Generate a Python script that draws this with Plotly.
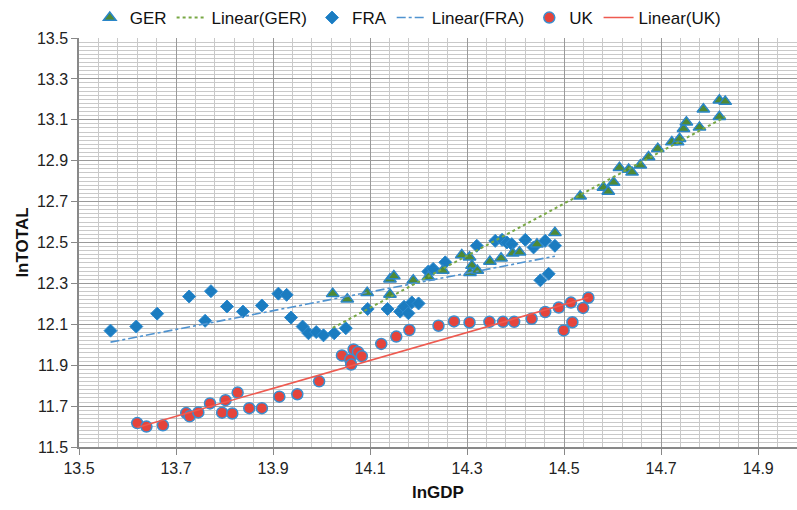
import numpy as np
import plotly.graph_objects as go

# ---- data ----
ger_x = [14.023, 14.053, 14.094, 14.141, 14.149, 14.141, 14.189, 14.220, 14.250, 14.289,
         14.305, 14.310, 14.306, 14.321, 14.347, 14.370, 14.394, 14.408, 14.444, 14.481,
         14.533, 14.581, 14.591, 14.602, 14.614, 14.633, 14.640, 14.657, 14.674, 14.693,
         14.722, 14.734, 14.738, 14.746, 14.752, 14.779, 14.787, 14.820, 14.832, 14.820]
ger_y = [12.250, 12.223, 12.254, 12.320, 12.336, 12.246, 12.315, 12.331, 12.363, 12.439,
         12.428, 12.387, 12.352, 12.363, 12.407, 12.423, 12.447, 12.452, 12.492, 12.548,
         12.726, 12.769, 12.749, 12.793, 12.866, 12.857, 12.843, 12.878, 12.918, 12.959,
         12.991, 12.991, 13.007, 13.056, 13.088, 13.063, 13.152, 13.196, 13.189, 13.115]

fra_x = [13.565, 13.618, 13.661, 13.727, 13.760, 13.772, 13.805, 13.838, 13.877, 13.911,
         13.928, 13.937, 13.961, 13.973, 13.989, 14.004, 14.026, 14.050, 14.095, 14.136,
         14.162, 14.170, 14.179, 14.186, 14.200, 14.220, 14.230, 14.255, 14.320, 14.358,
         14.372, 14.382, 14.392, 14.420, 14.437, 14.461, 14.481, 14.451, 14.468]
fra_y = [12.069, 12.089, 12.152, 12.236, 12.117, 12.262, 12.187, 12.162, 12.192, 12.250,
         12.244, 12.133, 12.089, 12.056, 12.062, 12.046, 12.056, 12.081, 12.175, 12.175,
         12.162, 12.186, 12.154, 12.207, 12.202, 12.358, 12.371, 12.403, 12.484, 12.508,
         12.513, 12.500, 12.492, 12.513, 12.476, 12.508, 12.484, 12.315, 12.347]

uk_x = [13.620, 13.639, 13.673, 13.721, 13.728, 13.746, 13.770, 13.795, 13.802, 13.816,
        13.827, 13.851, 13.877, 13.913, 13.950, 13.995, 14.042, 14.059, 14.061, 14.066,
        14.075, 14.083, 14.123, 14.154, 14.181, 14.241, 14.273, 14.305, 14.346, 14.374,
        14.397, 14.433, 14.461, 14.489, 14.514, 14.550, 14.539, 14.517, 14.499]
uk_y = [11.617, 11.600, 11.606, 11.666, 11.650, 11.669, 11.713, 11.668, 11.729, 11.664,
        11.766, 11.690, 11.690, 11.746, 11.758, 11.821, 11.948, 11.928, 11.903, 11.977,
        11.965, 11.944, 12.004, 12.040, 12.072, 12.093, 12.114, 12.109, 12.112, 12.112,
        12.112, 12.127, 12.160, 12.182, 12.206, 12.230, 12.180, 12.110, 12.070]

x_ticks = [13.5, 13.7, 13.9, 14.1, 14.3, 14.5, 14.7, 14.9]
y_ticks = [11.5, 11.7, 11.9, 12.1, 12.3, 12.5, 12.7, 12.9, 13.1, 13.3, 13.5]


def trend(xs, ys):
    xs = np.asarray(xs)
    ys = np.asarray(ys)
    k, b = np.polyfit(xs, ys, 1)
    xt = np.array([xs.min(), xs.max()])
    return xt, k * xt + b


FONT = "Liberation Sans, Arial, sans-serif"
fig = go.Figure()

fx, fy = trend(fra_x, fra_y)
gx, gy = trend(ger_x, ger_y)
ux, uy = trend(uk_x, uk_y)

fig.add_trace(go.Scatter(x=fra_x, y=fra_y, mode="markers", name="FRA", legendrank=3,
                         marker=dict(symbol="diamond", size=10, color="#1b7cc0",
                                     line=dict(color="#2b8ad0", width=1))))
fig.add_trace(go.Scatter(x=ger_x, y=ger_y, mode="markers", name="GER", legendrank=1,
                         marker=dict(symbol="triangle-up", size=11, color="#4f8a35",
                                     line=dict(color="#2a86c8", width=1.5))))
fig.add_trace(go.Scatter(x=uk_x, y=uk_y, mode="markers", name="UK", legendrank=5,
                         marker=dict(symbol="circle", size=11, color="#e5443c",
                                     line=dict(color="#3a8fd0", width=1.5))))
fig.add_trace(go.Scatter(x=fx, y=fy, mode="lines", name="Linear(FRA)", legendrank=4,
                         line=dict(color="#4f93d0", width=1.6, dash="dashdot")))
fig.add_trace(go.Scatter(x=gx, y=gy, mode="lines", name="Linear(GER)", legendrank=2,
                         line=dict(color="#78a844", width=2, dash="dot")))
fig.add_trace(go.Scatter(x=ux, y=uy, mode="lines", name="Linear(UK)", legendrank=6,
                         line=dict(color="#ee5a50", width=1.6)))

fig.update_layout(
    width=797, height=510,
    margin=dict(l=79, r=0, t=33, b=63),
    paper_bgcolor="white", plot_bgcolor="white",
    font=dict(family=FONT, size=16, color="#222"),
    legend=dict(orientation="h", x=0.015, xanchor="left", y=1.05, yanchor="middle",
                font=dict(size=17, color="#111"), bgcolor="rgba(0,0,0,0)",
                itemwidth=30, tracegroupgap=0),
    showlegend=True,
)

fig.update_xaxes(
    range=[13.5, 14.98], tickmode="array", tickvals=x_ticks,
    ticktext=[f"{v:.1f}" for v in x_ticks],
    showgrid=True, gridcolor="#9a9a9a", gridwidth=1,
    minor=dict(dtick=0.04, tick0=13.5, showgrid=True, gridcolor="#c9c9c9", gridwidth=1),
    ticks="outside", ticklen=6, tickcolor="#888",
    showline=True, linecolor="#888", linewidth=1.5,
    zeroline=False,
    tickfont=dict(size=16, color="#222"),
    title=dict(text="<b>lnGDP</b>", font=dict(size=17, color="#111"), standoff=10),
)
fig.update_yaxes(
    range=[11.5, 13.5], tickmode="array", tickvals=y_ticks,
    ticktext=[f"{v:.1f}" for v in y_ticks],
    showgrid=True, gridcolor="#9a9a9a", gridwidth=1,
    minor=dict(dtick=0.02, tick0=11.5, showgrid=True, gridcolor="#c9c9c9", gridwidth=1),
    ticks="outside", ticklen=6, tickcolor="#888",
    showline=True, linecolor="#888", linewidth=1.5,
    zeroline=False,
    tickfont=dict(size=16, color="#222"),
    title=dict(text="<b>lnTOTAL</b>", font=dict(size=17, color="#111"), standoff=4),
)

fig.write_html("out.html")
